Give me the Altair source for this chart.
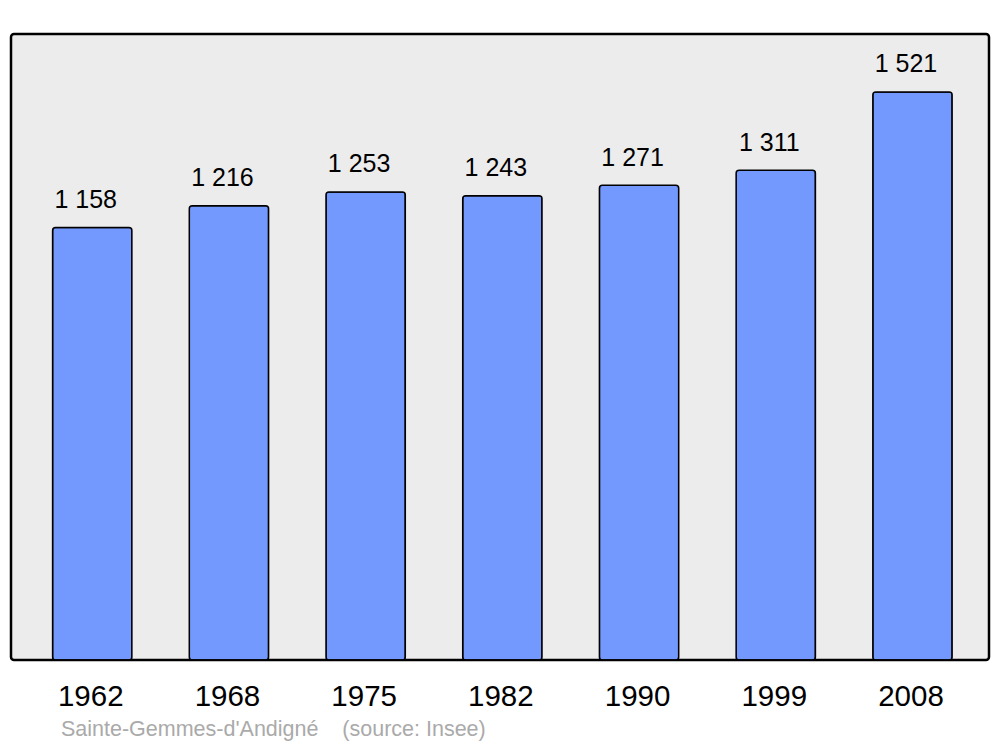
import altair as alt
import pandas as pd

years = ["1962", "1968", "1975", "1982", "1990", "1999", "2008"]
population = [1158, 1216, 1253, 1243, 1271, 1311, 1521]
labels = [f"{v:,}".replace(",", "\u00a0") for v in population]
source_note = "Sainte-Gemmes-d'Andigné\u00a0\u00a0\u00a0\u00a0(source: Insee)"

df = pd.DataFrame({"year": years, "pop": population, "label": labels})

FONT = "Liberation Sans"

x = alt.X(
    "year:N",
    sort=years,
    scale=alt.Scale(paddingInner=0.42, paddingOuter=0.287, align=0.53),
    axis=alt.Axis(
        title=None, labelAngle=0, domain=False, ticks=False, tickSize=0,
        labelFontSize=29.5, labelFont=FONT, labelColor="black",
        labelPadding=45, labelBaseline="alphabetic", grid=False, labelOffset=-1.5,
    ),
)
y = alt.Y("pop:Q", scale=alt.Scale(domain=[0, 1676], nice=False, zero=True), axis=None)

base = alt.Chart(df)
bars = base.mark_bar(color="#7399ff", stroke="black", strokeWidth=1.5, cornerRadius=3).encode(x=x, y=y)
text = base.mark_text(
    font=FONT, fontSize=25, baseline="alphabetic", dx=-6.5, dy=-19.5, color="black"
).encode(x=x, y=y, text="label:N")
note = alt.Chart(pd.DataFrame({"t": [source_note]})).mark_text(
    font=FONT, fontSize=21.5, color="#aaaaaa", align="left", baseline="alphabetic"
).encode(x=alt.value(50), y=alt.value(702), text="t:N")

chart = (
    alt.layer(bars, text, note)
    .properties(
        width=978, height=626,
        autosize=alt.AutoSizeParams(type="none"),
        padding={"left": 3, "top": 26, "right": 3, "bottom": 86},
    )
    .configure_view(fill="#ececec", stroke="black", strokeWidth=2.5, cornerRadius=3)
)

chart.save("out.html", embed_options={"renderer": "svg", "actions": False})
